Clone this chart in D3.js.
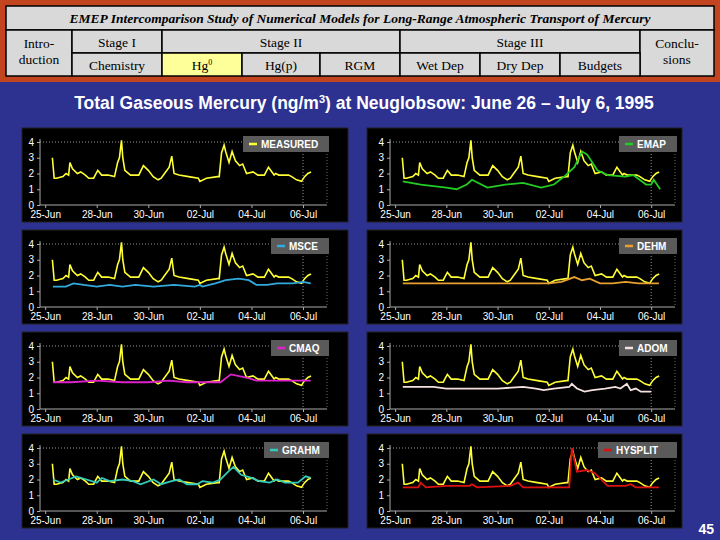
<!DOCTYPE html>
<html><head><meta charset="utf-8">
<script src="https://cdn.jsdelivr.net/npm/d3@7"></script>
<style>body{margin:0;background:#2d3190;}svg{display:block}</style>
</head><body>
<script>
const tickDays=[0,2,4,6,8,10];
const tickLabels=["25-Jun","28-Jun","30-Jun","02-Jul","04-Jul","06-Jul"];
const yTicks=[0,1,2,3,4];
const measuredDays=[0.28,0.35,0.44,0.69,0.81,0.91,0.96,1.06,1.25,1.38,1.56,1.69,1.88,1.94,2.04,2.19,2.44,2.69,2.81,2.88,2.96,3.01,3.09,3.31,3.63,3.81,4.0,4.19,4.38,4.5,4.63,4.81,4.91,5.0,5.19,5.56,5.94,6.0,6.25,6.69,6.75,6.84,6.94,7.0,7.13,7.25,7.38,7.54,7.66,7.81,8.06,8.25,8.5,8.66,8.88,8.94,9.06,9.44,9.56,9.75,9.94,10.06,10.19,10.31];
const measuredValues=[3.0,1.7,1.7,1.8,2.0,1.9,2.7,2.3,2.0,2.1,1.9,1.7,1.7,1.9,2.2,1.9,1.9,1.8,2.7,3.0,4.1,3.0,2.2,1.9,1.9,2.5,2.2,1.8,1.6,1.7,2.0,2.4,3.1,2.0,1.9,1.8,1.7,1.5,1.7,1.8,1.8,3.3,3.8,3.4,2.7,3.4,2.8,2.5,2.6,2.0,2.1,1.9,1.9,2.4,1.9,2.0,1.9,1.9,1.8,1.6,1.5,1.8,2.0,2.1];
const emapDays=[0.3,1,2,2.4,2.8,3.0,3.6,4.3,5,5.7,6.2,6.6,7.0,7.3,7.5,7.9,8.3,9,9.3,9.8,10.0,10.1,10.35];
const emapValues=[1.5,1.3,1.1,1.0,1.3,1.6,1.1,1.3,1.4,1.1,1.3,1.8,2.4,3.4,3.2,2.2,1.9,1.8,1.9,1.3,1.3,1.6,1.0];
const msceDays=[0.3,0.8,1.1,1.5,2,2.5,3,3.5,4.2,5,5.8,6.0,6.1,6.6,7.0,7.5,7.9,8.2,8.6,9,9.6,10,10.3];
const msceValues=[1.3,1.3,1.5,1.4,1.3,1.4,1.3,1.4,1.3,1.4,1.3,1.4,1.3,1.5,1.7,1.8,1.7,1.4,1.4,1.5,1.5,1.6,1.5];
const dehmDays=[0.3,1,2,3,4,5,6,6.5,7.0,7.3,7.6,8.0,8.5,9.0,9.5,10.3];
const dehmValues=[1.5,1.5,1.5,1.5,1.5,1.5,1.5,1.6,1.9,1.7,1.8,1.5,1.5,1.6,1.5,1.5];
const cmaqDays=[0.3,1,2.0,3,4,4.8,5.5,6.8,7.2,7.8,8.2,9,10.3];
const cmaqValues=[1.7,1.7,1.8,1.7,1.7,1.8,1.7,1.7,2.2,2.0,1.8,1.8,1.8];
const adomDays=[0.3,1.5,2,4,5,5.5,5.8,6.2,6.8,6.9,7.1,7.4,7.7,8.2,8.6,8.8,9.05,9.2,9.4,9.6,10.0];
const adomValues=[1.4,1.4,1.3,1.3,1.4,1.3,1.2,1.3,1.4,1.6,1.3,1.1,1.2,1.3,1.4,1.3,1.6,1.2,1.3,1.1,1.1];
const grahmDays=[0.3,0.6,0.9,1.2,1.6,2,2.2,2.5,3,3.4,3.7,4.2,4.5,4.9,5.2,5.5,5.9,6.1,6.5,6.8,7.1,7.3,7.6,8,8.3,8.7,9.0,9.3,9.8,10.1,10.3];
const grahmValues=[2.0,1.8,2.0,2.2,2.0,1.8,2.1,1.9,2.0,1.9,1.7,2.0,1.7,1.9,2.0,1.7,1.7,1.9,1.8,2.0,2.5,2.8,2.3,2.1,1.9,1.8,2.0,1.8,1.8,2.2,2.1];
const hysplitDays=[0.3,0.9,1.0,1.2,2,2.9,3.0,3.2,4.5,4.8,5.0,6,6.8,6.9,7.1,7.5,7.8,8.3,9,9.2,9.4,10.3];
const hysplitValues=[1.5,1.5,1.8,1.5,1.6,1.6,1.7,1.5,1.6,1.8,1.5,1.5,1.5,4.0,2.5,2.6,2.4,1.6,1.6,1.7,1.5,1.5];

const panels=[
 {name:"MEASURED",color:"#ffff33",d:null,v:null,x:22,y:128,w:326},
 {name:"EMAP",color:"#22cc22",d:emapDays,v:emapValues,x:367,y:128,w:315},
 {name:"MSCE",color:"#33aadd",d:msceDays,v:msceValues,x:22,y:230,w:326},
 {name:"DEHM",color:"#e8a030",d:dehmDays,v:dehmValues,x:367,y:230,w:315},
 {name:"CMAQ",color:"#dd22cc",d:cmaqDays,v:cmaqValues,x:22,y:332,w:326},
 {name:"ADOM",color:"#f5e0e0",d:adomDays,v:adomValues,x:367,y:332,w:315},
 {name:"GRAHM",color:"#33ccbb",d:grahmDays,v:grahmValues,x:22,y:434,w:326},
 {name:"HYSPLIT",color:"#dd1111",d:hysplitDays,v:hysplitValues,x:367,y:434,w:315}
];

const svg=d3.select("body").append("svg").attr("width",720).attr("height",540);
svg.append("rect").attr("width",720).attr("height",540).attr("fill","#2d3190");
svg.append("rect").attr("width",720).attr("height",82).attr("fill","#c2451f");
const hdr=svg.append("g");
const cells=[
 [6,6,708,24,"EMEP Intercomparison Study of Numerical Models for Long-Range Atmospheric Transport of Mercury",true],
 [6,30,66,46,"Intro-|duction"],[72,30,90,23,"Stage I"],[162,30,238,23,"Stage II"],[400,30,240,23,"Stage III"],[640,30,74,46,"Conclu-|sions"],
 [72,53,90,23,"Chemistry"],[162,53,80,23,"Hg0"],[242,53,78,23,"Hg(p)"],[320,53,80,23,"RGM"],
 [400,53,80,23,"Wet Dep"],[480,53,80,23,"Dry Dep"],[560,53,80,23,"Budgets"]];
cells.forEach(c=>{
 hdr.append("rect").attr("x",c[0]).attr("y",c[1]).attr("width",c[2]).attr("height",c[3])
  .attr("fill",c[4]==="Hg0"?"#ffff99":"#d9d9d9").attr("stroke","#000").attr("stroke-width",1.5);
 const t=hdr.append("text").attr("x",c[0]+c[2]/2).attr("text-anchor","middle")
  .attr("font-family","Liberation Serif").attr("font-size",13.5).attr("fill","#000");
 if(c[5]){t.attr("y",c[1]+17).attr("font-style","italic").attr("font-weight","bold").text(c[4]);}
 else if(c[4].includes("|")){const p=c[4].split("|");
   t.append("tspan").attr("x",c[0]+c[2]/2).attr("y",c[1]+18).text(p[0]);
   t.append("tspan").attr("x",c[0]+c[2]/2).attr("y",c[1]+34).text(p[1]);}
 else if(c[4]==="Hg0"){t.attr("y",c[1]+17).text("Hg");t.append("tspan").attr("font-size",8).attr("dy",-5).text("0");}
 else t.attr("y",c[1]+17).text(c[4]);
});
const tt=svg.append("text").attr("x",364).attr("y",109).attr("text-anchor","middle")
 .attr("font-family","Liberation Sans").attr("font-weight","bold").attr("font-size",17.5).attr("fill","#fff")
 .text("Total Gaseous Mercury (ng/m");
tt.append("tspan").attr("font-size",11).attr("dy",-6).text("3");
tt.append("tspan").attr("dy",6).text(") at Neuglobsow: June 26 – July 6, 1995");
svg.append("text").attr("x",714).attr("y",534).attr("text-anchor","end").attr("font-family","Liberation Sans")
 .attr("font-weight","bold").attr("font-size",14).attr("fill","#fff").text("45");

panels.forEach(p=>{
 const g=svg.append("g").attr("transform",`translate(${p.x},${p.y})`);
 g.append("rect").attr("width",p.w).attr("height",94).attr("fill","#000").attr("stroke","#222");
 const L=p.w>320?18:23, R=p.w>320?305:308;
 const x=d3.scaleLinear().domain([-0.2,10.93]).range([L,R]);
 const y=d3.scaleLinear().domain([0,4]).range([77,14]);
 g.append("line").attr("x1",L).attr("x2",R).attr("y1",y(4)).attr("y2",y(4)).attr("stroke","#999").attr("stroke-dasharray","1,2");
 g.append("line").attr("x1",x(10)).attr("x2",x(10)).attr("y1",y(4)-3).attr("y2",y(0)).attr("stroke","#999").attr("stroke-dasharray","1,2");
 g.append("line").attr("x1",R).attr("x2",R).attr("y1",y(4)-3).attr("y2",y(0)).attr("stroke","#666").attr("stroke-dasharray","1,2");
 const xa=g.append("g").attr("transform",`translate(0,${y(0)})`)
  .call(d3.axisBottom(x).tickValues(tickDays).tickFormat((d,i)=>tickLabels[i]).tickSize(3));
 const ya=g.append("g").attr("transform",`translate(${L},0)`).call(d3.axisLeft(y).tickValues(yTicks).tickFormat(d3.format("d")).tickSize(3));
 [xa,ya].forEach(a=>{a.selectAll("path,line").attr("stroke","#aaa");
  a.selectAll("text").attr("fill","#fff").attr("font-family","Liberation Sans").attr("font-size",10);});
 xa.select(".domain").attr("d",`M${L},0H${R}`);
 ya.select(".domain").attr("d",`M0,${y(4)-3}V${y(0)}`);
 const line=d3.line().x(d=>x(d[0])).y(d=>y(d[1]));
 g.append("path").attr("d",line(measuredDays.map((d,i)=>[d,measuredValues[i]])))
  .attr("fill","none").attr("stroke","#ffff33").attr("stroke-width",1.6);
 if(p.d) g.append("path").attr("d",line(p.d.map((d,i)=>[d,p.v[i]])))
  .attr("fill","none").attr("stroke",p.color).attr("stroke-width",1.8);
 const lw=p.name.length*7+30;
 const lx=R-lw+2;
 g.append("rect").attr("x",lx).attr("y",8).attr("width",lw).attr("height",16).attr("fill","#5a5a5a");
 g.append("line").attr("x1",lx+6).attr("x2",lx+14).attr("y1",16).attr("y2",16).attr("stroke",p.color).attr("stroke-width",2.5);
 g.append("text").attr("x",lx+18).attr("y",20).attr("font-family","Liberation Sans").attr("font-weight","bold")
  .attr("font-size",10).attr("fill","#fff").text(p.name);
});
</script>
</body></html>
